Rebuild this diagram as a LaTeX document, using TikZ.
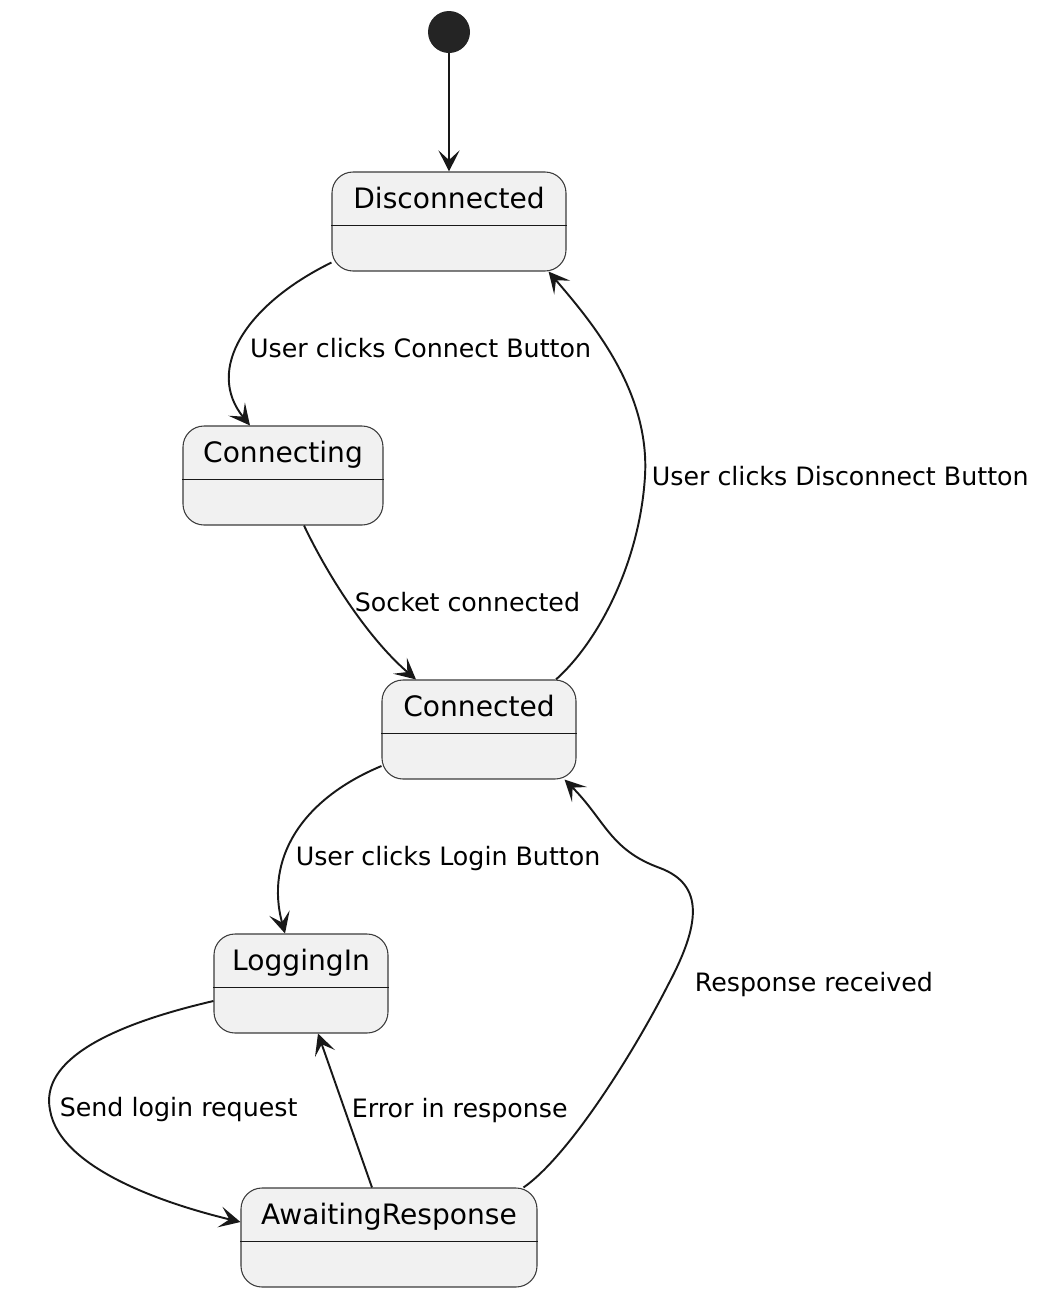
\documentclass[tikz,border=0pt]{standalone}
\usepackage{fontspec}
\setmainfont{DejaVu Sans}
\usetikzlibrary{arrows.meta}
\definecolor{boxfill}{HTML}{F1F1F1}
\definecolor{ink}{HTML}{181818}

\begin{document}
\begin{tikzpicture}[
    state/.style={draw=ink!85, fill=boxfill, line width=0.6pt, rounded corners=0.42cm,
        inner xsep=0pt, inner ysep=0pt, text height=0.72cm, text depth=1.26cm,
        font=\fontsize{16}{19}\selectfont},
    trans/.style={draw=ink, line width=1.1pt, -{Stealth[length=12pt,width=12pt,inset=5.5pt]}},
    lbl/.style={font=\fontsize{14.4}{17}\selectfont, text=black}
]
    \useasboundingbox (0,0) rectangle (20.84,-26);

    \node[circle, fill=ink!95, minimum size=0.84cm, inner sep=0pt] (start) at (8.98,-0.64) {};
    \node[state, minimum width=4.68cm] (dis) at (8.98,-4.43) {Disconnected};
    \node[state, minimum width=4.0cm] (cing) at (5.66,-9.51) {Connecting};
    \node[state, minimum width=3.88cm] (ced) at (9.58,-14.59) {Connected};
    \node[state, minimum width=3.48cm] (log) at (6.02,-19.67) {LoggingIn};
    \node[state, minimum width=5.92cm] (await) at (7.78,-24.75) {AwaitingResponse};

    \foreach \s in {dis,cing,ced,log,await}
        \draw[ink, line width=0.45pt] ([yshift=-0.07cm]\s.west) -- ([yshift=-0.07cm]\s.east);

    \draw[trans] (start) -- (dis.north);
    \draw[trans] ([yshift=0.18cm]dis.south west) .. controls (4.9,-6.1) and (4.1,-7.4) .. ([xshift=-0.66cm]cing.north)
        node[lbl, pos=0.55, right, xshift=0.12cm] {User clicks Connect Button};
    \draw[trans] ([xshift=0.42cm]cing.south) .. controls (6.6,-11.6) and (7.4,-12.8) .. ([xshift=-1.26cm]ced.north)
        node[lbl, pos=0.46, right] {Socket connected};
    \draw[trans] ([xshift=1.54cm]ced.north) .. controls (12,-12.8) and (12.8,-11.2) .. (12.9,-9.52)
        node[lbl, right] {User clicks Disconnect Button}
        .. controls (13,-7.8) and (11.8,-6.4) .. ([xshift=-0.36cm]dis.south east);
    \draw[trans] ([yshift=-0.73cm]ced.west) .. controls (6,-16) and (5.3,-17.2) .. ([xshift=-0.32cm]log.north)
        node[lbl, pos=0.63, right, xshift=0.08cm] {User clicks Login Button};
    \draw[trans] ([yshift=-0.35cm]log.west) .. controls (2.2,-20.5) and (0.8,-21.2) .. (1,-22.2)
        node[lbl, right, xshift=0.06cm] {Send login request}
        .. controls (1.2,-23.4) and (3.4,-24.1) .. ([yshift=0.31cm]await.west);
    \draw[trans] ([xshift=-0.34cm]await.north) -- ([xshift=0.34cm]log.south)
        node[lbl, midway, right] {Error in response};
    \draw[trans] ([xshift=-0.28cm]await.north east) .. controls (11.4,-23.1) and (12.7,-21) .. (13.36,-19.7)
        node[lbl, right, xshift=0.4cm] {Response received}
        .. controls (14,-18.5) and (14.1,-17.7) .. (13.2,-17.36)
        .. controls (12.2,-17) and (12.1,-16.4) .. ([xshift=-0.24cm]ced.south east);
\end{tikzpicture}
\end{document}
